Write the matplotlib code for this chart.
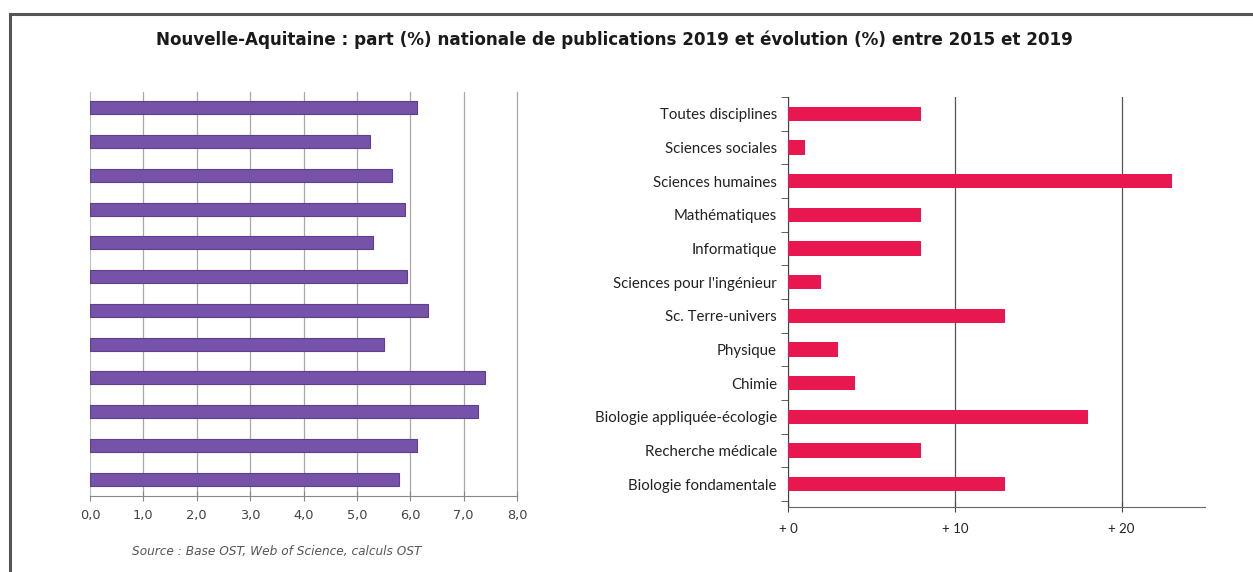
import matplotlib
matplotlib.use("Agg")
import matplotlib.pyplot as plt
import numpy as np

disciplines = ["Toutes disciplines", "Sciences sociales", "Sciences humaines",
               "Mathématiques", "Informatique", "Sciences pour l'ingénieur",
               "Sc. Terre-univers", "Physique", "Chimie",
               "Biologie appliquée-écologie", "Recherche médicale",
               "Biologie fondamentale"]
part_2019 = [6.13, 5.25, 5.66, 5.90, 5.30, 5.94, 6.33, 5.51, 7.40, 7.27, 6.13, 5.79]
evolution = [8, 1, 23, 8, 8, 2, 13, 3, 4, 18, 8, 13]
part_ticks = [0, 1, 2, 3, 4, 5, 6, 7, 8]
part_ticklabels = ["0,0", "1,0", "2,0", "3,0", "4,0", "5,0", "6,0", "7,0", "8,0"]
evo_ticks = [0, 10, 20]
evo_ticklabels = ["+ 0", "+ 10", "+ 20"]

fig = plt.figure(figsize=(12.53, 5.72), dpi=100)
y = np.arange(len(disciplines))

# frame lines (top + left)
fig.add_artist(plt.Line2D([10/1253, 10/1253], [0, 1-14/572], color="#555555", lw=2.2))
fig.add_artist(plt.Line2D([10/1253, 1], [1-14/572, 1-14/572], color="#555555", lw=2.2))

fig.text(614.5/1253, 1-40/572, "Nouvelle-Aquitaine : part (%) nationale de publications 2019 et évolution (%) entre 2015 et 2019",
         ha="center", va="center", fontsize=12.1, fontweight="bold", family="DejaVu Sans", color="#1a1a1a")

# left: part nationale
ax1 = fig.add_axes([90/1253, 1-496/572, 427/1253, 404/572])
ax1.barh(y, part_2019, height=0.38, color="#7652a9", edgecolor="#5d3f8c", lw=0.8, zorder=3)
ax1.set_xlim(0, 8)
ax1.set_ylim(11.5, -0.47)
ax1.set_xticks(part_ticks)
ax1.set_xticklabels(part_ticklabels, fontsize=9.3, color="#444444", family="DejaVu Sans")
ax1.set_yticks([])
for t in part_ticks[1:]:
    ax1.axvline(t, color="#a8a8a8", lw=0.9, zorder=0, clip_on=False)
for s in ["top", "right"]:
    ax1.spines[s].set_visible(False)
ax1.spines["left"].set_color("#c0c0c0")
ax1.spines["bottom"].set_color("#888888")
ax1.tick_params(axis="x", direction="inout", length=7, color="#888888", pad=6)

fig.text(132/1253, 1-552/572, "Source : Base OST, Web of Science, calculs OST",
         ha="left", va="center", fontsize=8.7, style="italic", color="#555555", family="DejaVu Sans")

# right: evolution
ax2 = fig.add_axes([788/1253, 1-507/572, 417/1253, 410/572])
ax2.barh(y, evolution, height=0.42, color="#e8174f", zorder=3)
ax2.set_xlim(0, 25)
ax2.set_ylim(11.68, -0.47)
ax2.set_xticks(evo_ticks)
ax2.set_xticklabels(evo_ticklabels, fontsize=9.5, color="#222222", family="Lato")
ax2.set_yticks(y)
ax2.set_yticklabels(disciplines, fontsize=10.8, color="#222222", family="Lato")
ax2.set_yticks(np.arange(-0.5, len(disciplines), 1), minor=True)
ax2.tick_params(axis="y", which="major", length=0, pad=8)
ax2.tick_params(axis="y", which="minor", length=5, color="#444444")
ax2.tick_params(axis="x", direction="inout", length=7, color="#444444", pad=8)
ax2.grid(axis="x", color="#555555", lw=0.9, zorder=0)
for s in ["top", "right"]:
    ax2.spines[s].set_visible(False)
ax2.spines["left"].set_color("#444444")
ax2.spines["bottom"].set_color("#666666")

fig.savefig("out.png", dpi=100)
